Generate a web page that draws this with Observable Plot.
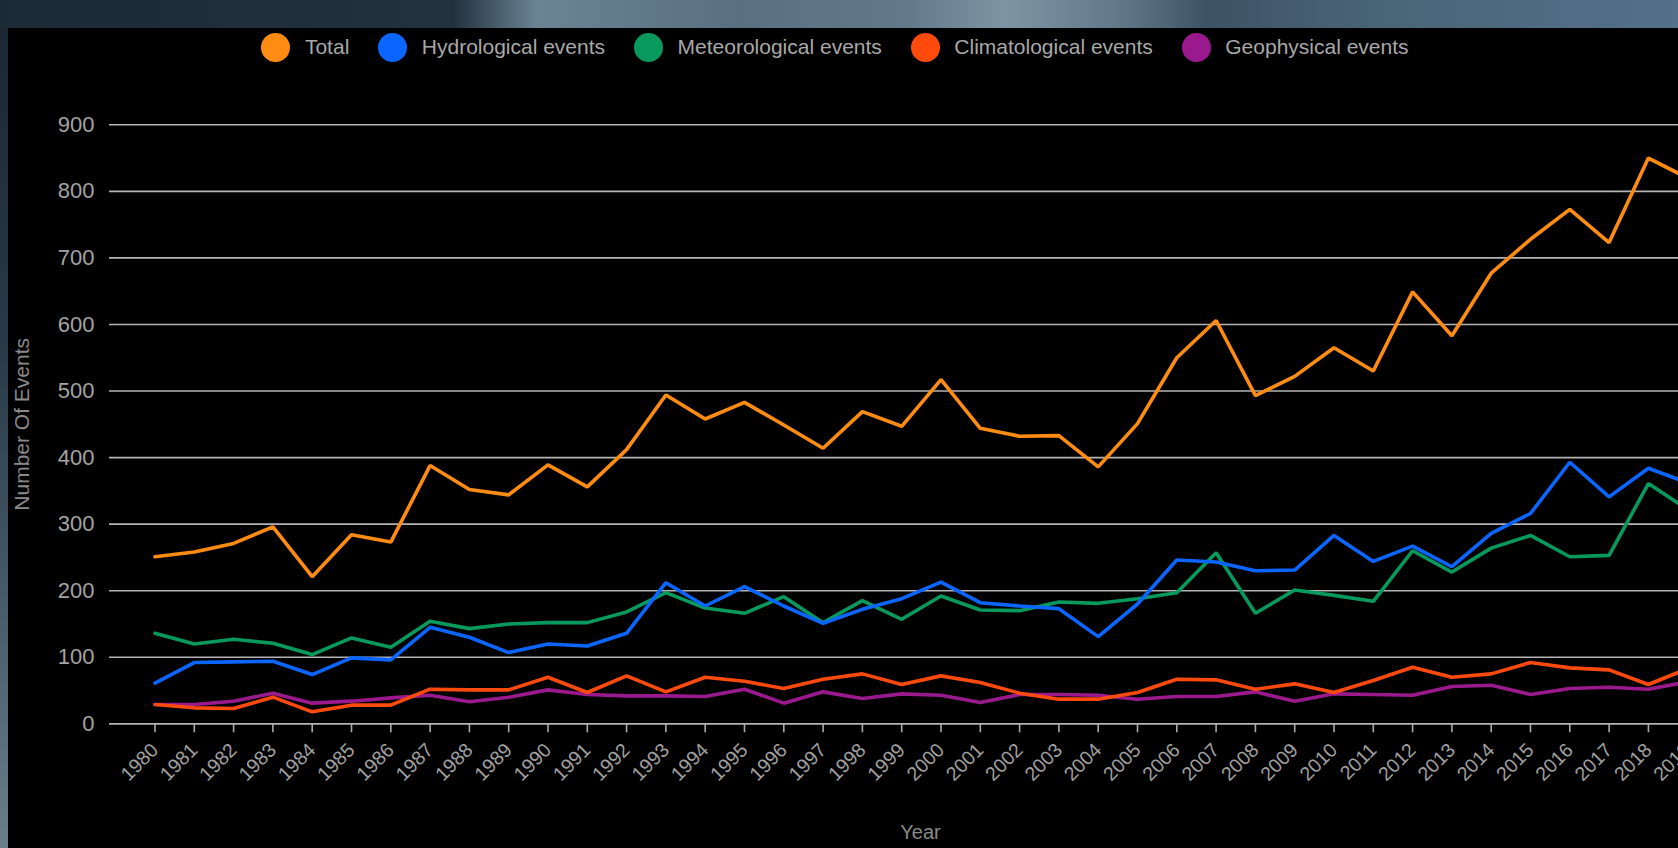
<!DOCTYPE html>
<html>
<head>
<meta charset="utf-8">
<script src="https://cdn.jsdelivr.net/npm/d3@7"></script>
<script src="https://cdn.jsdelivr.net/npm/@observablehq/plot@0.6"></script>
<style>
  html, body { margin: 0; padding: 0; width: 1678px; height: 848px; overflow: hidden; }
  body {
    position: relative;
    font-family: "Liberation Sans", Arial, sans-serif;
    background: linear-gradient(90deg, #1c2a36 0%, #22313e 27%, #6a8494 32%, #58707f 44%, #62798a 54%, #7d95a3 60%, #5f7787 67%, #3c5365 72%, #4a6477 82%, #54708a 100%);
  }
  #strip { position: absolute; left: 0; top: 28px; width: 8px; height: 820px;
    background: linear-gradient(180deg, #1b2733 0%, #2a3a48 40%, #4d606e 75%, #6c7e8a 100%); }
  #panel { position: absolute; left: 8px; top: 28px; width: 1670px; height: 820px; background: #000; overflow: hidden; }
  #legend { position: absolute; left: 0; top: 4px; width: 1654px; height: 30px;
    display: flex; justify-content: center; align-items: center; }
  .item { display: flex; align-items: center; margin: 0 14.5px; }
  .dot { width: 29px; height: 29px; border-radius: 50%; margin-right: 14.5px; }
  .lab { color: #a8a8a8; font-size: 21px; white-space: nowrap; }
  #chart { position: absolute; left: 0; top: 0; width: 1760px; }
  #chart svg { max-width: none !important; width: 1760px !important; height: 820px !important; }
</style>
</head>
<body>
<div id="strip"></div>
<div id="panel">
  <div id="legend"></div>
  <div id="chart"></div>
</div>
<script>
const years = d3.range(1980, 2020);
const seriesNames = ["Total", "Hydrological events", "Meteorological events", "Climatological events", "Geophysical events"];
const seriesColors = ["#ff8c12", "#0a66ff", "#079a5c", "#ff4a0e", "#9a1a8e"];

const total = [251, 258, 271, 296, 221, 284, 273, 388, 352, 344, 389, 356, 412, 494, 458, 483, 449, 414, 469, 447,
               517, 444, 432, 433, 386, 451, 550, 606, 493, 522, 565, 530, 649, 583, 677, 728, 773, 723, 850, 820];
const hydrological = [61, 92, 93, 94, 74, 99, 96, 145, 130, 107, 120, 117, 136, 212, 177, 206, 177, 151, 172, 188,
               213, 182, 177, 173, 131, 180, 246, 243, 230, 231, 283, 244, 267, 236, 286, 316, 393, 341, 384, 362];
const meteorological = [136, 120, 127, 121, 104, 129, 115, 154, 143, 150, 152, 152, 168, 197, 174, 166, 191, 152, 185, 157,
               192, 171, 170, 183, 181, 188, 197, 257, 166, 201, 193, 184, 260, 228, 264, 283, 251, 253, 361, 322];
const climatological = [29, 24, 23, 40, 18, 28, 28, 52, 51, 51, 70, 47, 72, 48, 70, 64, 53, 67, 75, 59,
               72, 62, 46, 37, 37, 47, 67, 66, 52, 60, 47, 65, 85, 70, 75, 92, 84, 81, 59, 83];
const geophysical = [29, 29, 34, 46, 31, 34, 39, 43, 33, 40, 51, 44, 42, 42, 41, 52, 31, 48, 38, 45,
               43, 32, 44, 44, 43, 37, 41, 41, 48, 34, 45, 44, 43, 56, 58, 44, 53, 55, 52, 63];
const yTicks = [0, 100, 200, 300, 400, 500, 600, 700, 800, 900];

const seriesValues = [total, hydrological, meteorological, climatological, geophysical];

// legend
const legend = document.getElementById("legend");
seriesNames.forEach((name, i) => {
  const item = document.createElement("div");
  item.className = "item";
  const dot = document.createElement("div");
  dot.className = "dot";
  dot.style.background = seriesColors[i];
  const lab = document.createElement("span");
  lab.className = "lab";
  lab.textContent = name;
  item.appendChild(dot); item.appendChild(lab);
  legend.appendChild(item);
});

// long-form data, drawn in reverse order so Total ends on top
const data = [];
for (let s = seriesNames.length - 1; s >= 0; s--) {
  years.forEach((yr, j) => data.push({series: seriesNames[s], year: yr, value: seriesValues[s][j]}));
}

const chart = Plot.plot({
  width: 1760,
  height: 820,
  marginLeft: 101,
  marginRight: 37,
  marginTop: 96.3,
  marginBottom: 124.7,
  style: {background: "transparent", color: "#a3a3a3", fontFamily: "'Liberation Sans', Arial, sans-serif", maxWidth: "none"},
  x: {domain: [1980, 2019], insetLeft: 45.5, insetRight: 43.8},
  y: {domain: [0, 900]},
  color: {domain: seriesNames, range: seriesColors},
  marks: [
    Plot.gridY(yTicks, {stroke: "#b4b4b4", strokeOpacity: 1, strokeWidth: 1.6}),
    Plot.axisY(yTicks, {tickSize: 0, tickPadding: 15, fontSize: 22, fill: "#a3a3a3", label: null}),
    Plot.axisY([], {tickSize: 0, label: "Number Of Events", labelAnchor: "center", labelOffset: 95, labelArrow: "none", fontSize: 21, fill: "#8a8a8a"}),
    Plot.axisX(years, {tickSize: 9, tickPadding: 14, tickRotate: -45, textAnchor: "end", lineAnchor: "middle",
                       tickFormat: d => String(d), fontSize: 19.5, fill: "#a0a0a0", stroke: "#a8a8a8", strokeWidth: 1.6, label: null}),
    Plot.axisX([], {tickSize: 0, label: "Year", labelAnchor: "center", labelOffset: 115, labelArrow: "none", fontSize: 20, fill: "#8a8a8a"}),
    Plot.ruleY([0], {stroke: "#b4b4b4", strokeWidth: 1.6}),
    Plot.lineY(data, {x: "year", y: "value", z: "series", stroke: "series", strokeWidth: 3.6, strokeLinejoin: "miter"})
  ]
});
document.getElementById("chart").appendChild(chart);
</script>
</body>
</html>
